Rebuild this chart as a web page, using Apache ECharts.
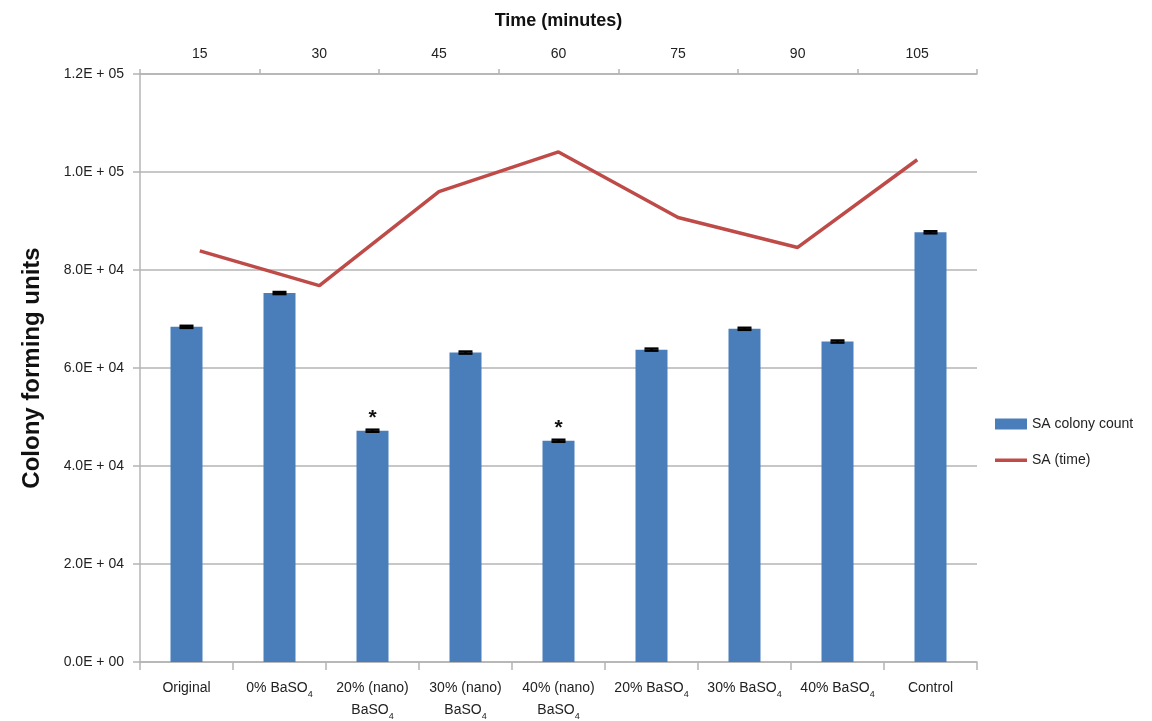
<!DOCTYPE html>
<html>
<head>
<meta charset="utf-8">
<script src="https://cdn.jsdelivr.net/npm/echarts@6/dist/echarts.min.js"></script>
<style>
  html, body { margin: 0; padding: 0; background: #fff; }
  #chart { width: 1152px; height: 721px; }
</style>
</head>
<body>
<div id="chart"></div>
<script>
// Sample groups along the bottom axis
const groups = ['Original', '0% BaSO4', '20% (nano)\nBaSO4', '30% (nano)\nBaSO4',
  '40% (nano)\nBaSO4', '20% BaSO4', '30% BaSO4', '40% BaSO4', 'Control'];
// SA colony counts (CFU) per group, with error and significance marks
const colonyCount = [68400, 75300, 47200, 63150, 45150, 63750, 68000, 65400, 87700];
const colonyError = [220, 220, 220, 220, 220, 220, 220, 220, 220];
const significance = ['', '', '*', '', '*', '', '', '', ''];
// Time course along the top axis
const timeMinutes = ['15', '30', '45', '60', '75', '90', '105'];
const saTime = [83900, 76800, 96000, 104100, 90700, 84600, 102500];
// Value axis ticks
const yMin = 0, yMax = 120000, yStep = 20000;

const FONT = '"Liberation Sans", Arial, Helvetica, sans-serif';
const GRID_GREY = '#b4b4b4';
const BAR_BLUE = '#4a7ebb';
const LINE_RED = '#be4b48';

function sciLabel(v) {
  if (v === 0) return '0.0E + 00';
  const e = Math.floor(Math.log10(v) + 1e-9);
  const m = v / Math.pow(10, e);
  return m.toFixed(1) + 'E + ' + String(e).padStart(2, '0');
}

// Render "BaSO4" with a subscript 4
function subscriptLabel(text) {
  return text.replace(/BaSO4/g, 'BaSO{s|4}');
}

const chart = echarts.init(document.getElementById('chart'), null, { renderer: 'canvas' });

const option = {
  backgroundColor: '#ffffff',
  animation: false,
  textStyle: { fontFamily: FONT },
  grid: { left: 140, right: 175, top: 74, bottom: 50 },
  legend: {
    orient: 'vertical',
    left: 990,
    top: 412,
    itemWidth: 32,
    itemHeight: 11,
    itemGap: 22,
    textStyle: { fontFamily: FONT, fontSize: 14, color: '#222' },
    data: [
      { name: 'SA colony count', icon: 'rect' },
      // thin bar centred in the icon box, drawn as a line swatch
      { name: 'SA (time)', icon: 'path://M0,0 M32,11 M0,4 L32,4 L32,7.5 L0,7.5 Z' }
    ]
  },
  xAxis: [
    {
      type: 'category',
      position: 'bottom',
      data: groups,
      boundaryGap: true,
      axisLine: { show: true, lineStyle: { color: GRID_GREY, width: 1.5 } },
      axisTick: { show: true, length: 8, alignWithLabel: false, lineStyle: { color: GRID_GREY, width: 1.5 } },
      axisLabel: {
        interval: 0,
        margin: 15,
        fontFamily: FONT,
        fontSize: 14,
        lineHeight: 22,
        color: '#222',
        formatter: subscriptLabel,
        rich: {
          s: { fontFamily: FONT, fontSize: 9, color: '#222', verticalAlign: 'bottom' }
        }
      },
      splitLine: { show: false }
    },
    {
      type: 'category',
      position: 'top',
      data: timeMinutes,
      boundaryGap: true,
      name: 'Time (minutes)',
      nameLocation: 'middle',
      nameGap: 44,
      nameTextStyle: { fontFamily: FONT, fontSize: 18, fontWeight: 'bold', color: '#111' },
      axisLine: { show: true, lineStyle: { color: GRID_GREY, width: 1.5 } },
      axisTick: { show: true, length: 5, lineStyle: { color: GRID_GREY, width: 1.5 } },
      axisLabel: { interval: 0, margin: 13, fontFamily: FONT, fontSize: 14, color: '#222' },
      splitLine: { show: false }
    }
  ],
  yAxis: {
    type: 'value',
    min: yMin,
    max: yMax,
    interval: yStep,
    name: 'Colony forming units',
    nameLocation: 'middle',
    nameGap: 96,
    nameTextStyle: { fontFamily: FONT, fontSize: 24, fontWeight: 'bold', color: '#111' },
    axisLine: { show: true, lineStyle: { color: GRID_GREY, width: 1.5 } },
    axisTick: { show: true, length: 7, lineStyle: { color: GRID_GREY, width: 1.5 } },
    axisLabel: { margin: 16, fontFamily: FONT, fontSize: 14, color: '#222', formatter: sciLabel },
    splitLine: { show: true, lineStyle: { color: GRID_GREY, width: 1.5 } }
  },
  series: [
    {
      name: 'SA colony count',
      type: 'bar',
      xAxisIndex: 0,
      barWidth: 32,
      itemStyle: { color: BAR_BLUE },
      data: colonyCount.map((v, i) => ({
        value: v,
        label: {
          show: significance[i] !== '',
          position: 'top',
          distance: 2,
          formatter: significance[i],
          fontFamily: FONT,
          fontSize: 21,
          fontWeight: 'bold',
          color: '#111'
        }
      })),
      z: 2
    },
    {
      name: 'errors',
      type: 'custom',
      xAxisIndex: 0,
      data: colonyCount.map((v, i) => [i, v - colonyError[i], v + colonyError[i]]),
      renderItem: function (params, api) {
        const x = api.value(0);
        const lo = api.coord([x, api.value(1)]);
        const hi = api.coord([x, api.value(2)]);
        const half = 7;
        const style = { stroke: '#000', lineWidth: 2.4 };
        return {
          type: 'group',
          children: [
            { type: 'line', shape: { x1: hi[0], y1: hi[1], x2: lo[0], y2: lo[1] }, style: style },
            { type: 'line', shape: { x1: hi[0] - half, y1: hi[1], x2: hi[0] + half, y2: hi[1] }, style: style },
            { type: 'line', shape: { x1: lo[0] - half, y1: lo[1], x2: lo[0] + half, y2: lo[1] }, style: style }
          ]
        };
      },
      z: 3,
      silent: true
    },
    {
      name: 'SA (time)',
      type: 'line',
      xAxisIndex: 1,
      data: saTime,
      symbol: 'none',
      showSymbol: false,
      lineStyle: { color: LINE_RED, width: 3.5 },
      itemStyle: { color: LINE_RED },
      z: 4
    }
  ]
};

chart.setOption(option);
</script>
</body>
</html>
